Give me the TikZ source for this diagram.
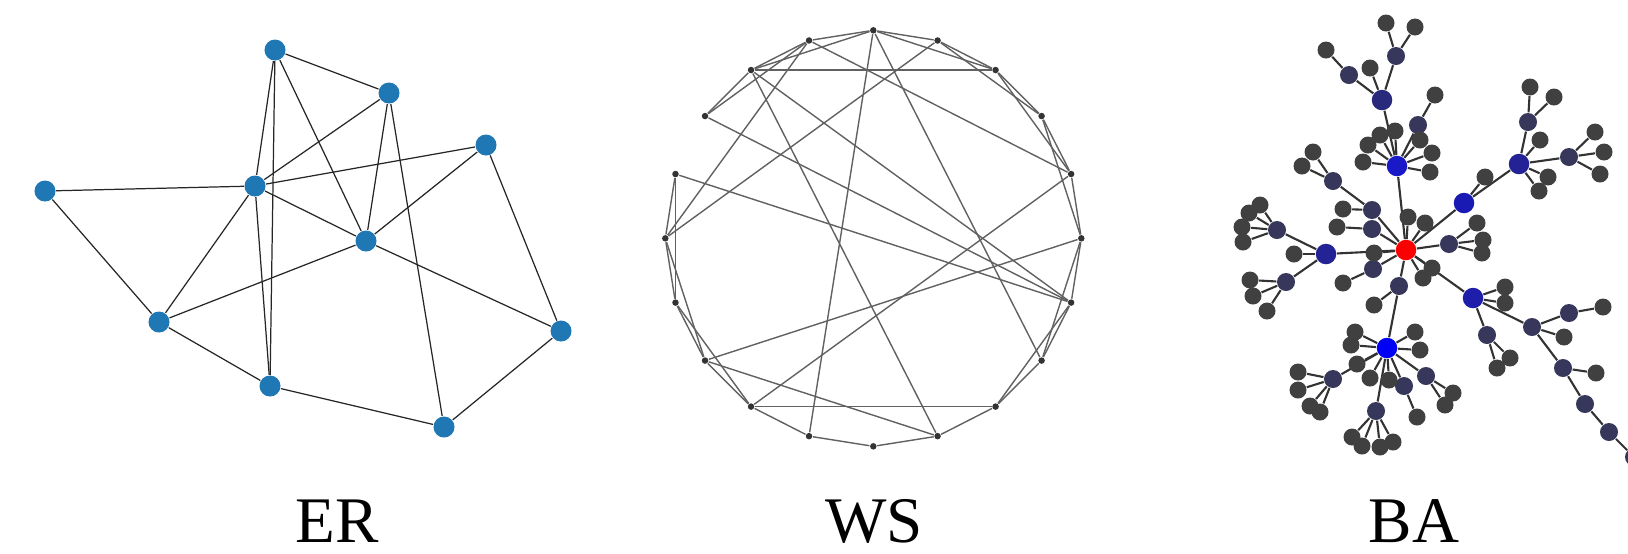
\documentclass[tikz,border=0pt]{standalone}
\usepackage{fontspec}
\setmainfont{Liberation Serif}
\pgfdeclarelayer{bg}
\pgfsetlayers{bg,main}
\definecolor{erblue}{RGB}{31,119,180}
\definecolor{hubred}{RGB}{250,0,0}
\definecolor{hbA}{RGB}{25,25,200}
\definecolor{hbB}{RGB}{35,35,150}
\definecolor{hbC}{RGB}{0,0,245}
\definecolor{hbD}{RGB}{30,30,170}
\definecolor{hbE}{RGB}{35,35,150}
\definecolor{hbF}{RGB}{25,25,180}
\definecolor{hbU}{RGB}{42,42,125}
\definecolor{navy}{RGB}{55,55,92}
\definecolor{dk}{RGB}{64,64,64}
\begin{document}
\begin{tikzpicture}[x=0.01cm,y=-0.01cm,
  ern/.style={circle,fill=erblue,inner sep=0pt,minimum size=0.21cm},
  ere/.style={draw=black!85,line width=0.35pt},
  wsn/.style={circle,fill=black!80,inner sep=0pt,minimum size=0.065cm},
  wse/.style={draw=black!62,line width=0.4pt},
  hub/.style={circle,fill=#1,inner sep=0pt,minimum size=0.205cm},
  nvn/.style={circle,fill=navy,inner sep=0pt,minimum size=0.18cm},
  dkn/.style={circle,fill=dk,inner sep=0pt,minimum size=0.17cm},
  bae/.style={draw=black!80,line width=0.6pt},
  lbl/.style={font=\fontsize{18.5}{20}\selectfont,anchor=base,inner sep=0pt}]
\useasboundingbox (0,0) rectangle (1628,553);

% ---------------- ER ----------------
\node[ern] (A) at (275,50) {};
\node[ern] (B) at (389,93) {};
\node[ern] (C) at (486,145) {};
\node[ern] (D) at (45,191) {};
\node[ern] (E) at (255,186) {};
\node[ern] (F) at (366,241) {};
\node[ern] (G) at (159,322) {};
\node[ern] (H) at (561,331) {};
\node[ern] (I) at (270,386) {};
\node[ern] (J) at (444,427) {};
\begin{pgfonlayer}{bg}
\foreach \a/\b in {A/B,A/E,A/I,A/F,B/E,B/F,B/J,C/E,C/F,C/H,D/E,D/G,E/F,E/G,E/I,F/G,F/H,G/I,I/J,J/H}
  \draw[ere] (\a) -- (\b);
\end{pgfonlayer}

% ---------------- WS ----------------
\foreach \i in {0,...,19}
  \node[wsn] (w\i) at ({873.3+208*cos(90-18*\i)},{238.3-208*sin(90-18*\i)}) {};
\begin{pgfonlayer}{bg}
\foreach \a/\b in {0/1,1/2,2/3,3/4,4/5,5/6,6/7,7/8,8/9,9/10,10/11,11/12,12/13,13/14,14/15,15/16,17/18,18/19,19/0,
  0/2,1/3,2/4,3/5,5/7,6/8,12/14,13/15,14/16,17/19,18/0,
  18/2,12/8,0/11,0/7,19/4,19/15,1/15,18/9,18/6,17/6,16/6,4/12,5/13,13/9}
  \draw[wse] (w\a) -- (w\b);
\end{pgfonlayer}

% ---------------- BA ----------------
\node[hub=hubred] (R) at (1406,250) {};
\node[hub=hbA] (B1) at (1397,166) {};
\node[hub=hbB] (B2) at (1326,254) {};
\node[hub=hbC] (B3) at (1387,348) {};
\node[hub=hbD] (B4) at (1473,298) {};
\node[hub=hbE] (B5) at (1519,164) {};
\node[hub=hbF] (B6) at (1464,203) {};
\node[hub=hbU] (U) at (1382,100) {};
\foreach \n/\x/\y in {U1/1349/75,U2/1396/56,N1/1418/125,N2/1528/122,N3/1569/157,N4/1449/244,
  N5/1372/210,N6/1333/181,N7/1372/229,N8/1373/269,N9/1399/286,N10/1277/230,N11/1286/282,
  N12/1333/379,N13/1376/411,N14/1404/386,N15/1426/376,N16/1487/335,B7/1532/327,
  N17/1569/313,N18/1563/368,N19/1585/404,N20/1609/432,N21/1634/457}
  \node[nvn] (\n) at (\x,\y) {};
\def\leaves{d1/1370/68/U,d2/1326/50/U1,d3/1386/23/U2,d4/1415/27/U2,d5/1435/95/N1,
  d6/1380/135/B1,d7/1395/131/B1,d8/1368/145/B1,d9/1363/162/B1,d10/1420/140/B1,d11/1432/153/B1,d12/1430/172/B1,
  d13/1313/152/N6,d14/1302/166/N6,d15/1343/209/N5,d16/1337/227/N7,d17/1343/283/N8,d18/1374/305/N9,
  d19/1374/253/R,d20/1408/217/R,d21/1425/223/R,d22/1432/268/R,d23/1423/278/R,
  d24/1477/223/N4,d25/1483/240/N4,d26/1482/253/N4,d27/1485/177/B6,
  d28/1540/140/B5,d29/1548/177/B5,d30/1539/191/B5,d31/1530/87/N2,d32/1554/97/N2,
  d33/1595/132/N3,d34/1604/152/N3,d35/1600/174/N3,d36/1294/254/B2,
  d37/1260/205/N10,d38/1249/213/N10,d39/1242/227/N10,d40/1243/242/N10,
  d41/1250/280/N11,d42/1253/296/N11,d43/1267/311/N11,
  d44/1355/332/B3,d45/1351/345/B3,d46/1415/332/B3,d47/1420/350/B3,d48/1357/364/B3,d49/1370/378/B3,d50/1389/380/B3,
  d51/1298/372/N12,d52/1298/390/N12,d53/1310/406/N12,d54/1320/412/N12,
  d55/1352/437/N13,d56/1362/446/N13,d57/1380/447/N13,d58/1393/442/N13,
  d59/1417/417/N14,d60/1453/393/N15,d61/1445/405/N15,d62/1505/287/B4,d63/1505/303/B4,
  d64/1497/368/N16,d65/1510/358/N16,d66/1564/337/B7,d67/1603/307/N17,d68/1596/373/N18}
\foreach \n/\x/\y/\p in \leaves
  \node[dkn] (\n) at (\x,\y) {};
\begin{pgfonlayer}{bg}
\foreach \a/\b in {R/B1,R/B2,R/N9,N9/B3,R/B4,R/B6,B6/B5,R/N4,R/N5,N5/N6,R/N7,R/N8,
  B1/U,U/U1,U/U2,B1/N1,B5/N2,B5/N3,B2/N10,B2/N11,B3/N12,B3/N13,B3/N14,B3/N15,
  B4/N16,B4/B7,B7/N17,B7/N18,N18/N19,N19/N20,N20/N21}
  \draw[bae] (\a) -- (\b);
\foreach \n/\x/\y/\p in \leaves
  \draw[bae] (\n) -- (\p);
\end{pgfonlayer}

% ---------------- labels ----------------
\node[lbl] (lER) at (337,542) {ER};
\node[lbl] (lWS) at (874,542) {WS};
\node[lbl] (lBA) at (1414,542) {BA};
\end{tikzpicture}
\end{document}
